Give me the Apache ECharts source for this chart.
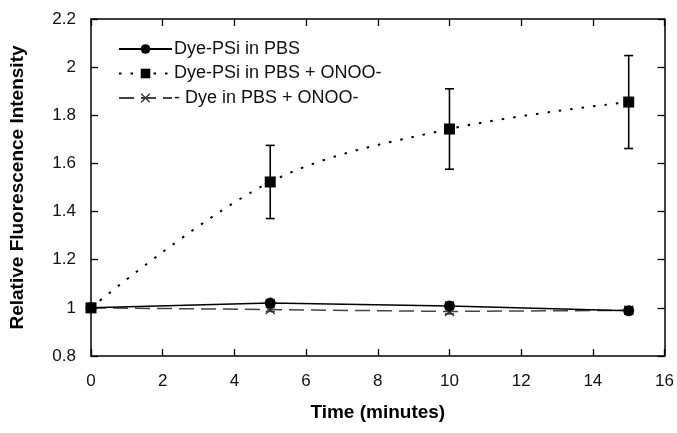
<!DOCTYPE html>
<html>
<head>
<meta charset="utf-8">
<script src="https://cdn.jsdelivr.net/npm/echarts@6/dist/echarts.min.js"></script>
<style>html,body{margin:0;padding:0;background:#fff}#c{width:677px;height:433px}</style>
</head>
<body>
<div id="c"></div>
<script>
var times = [0, 5, 10, 15];
var seriesNames = ['Dye-PSi in PBS', 'Dye-PSi in PBS + ONOO-', '- Dye in PBS + ONOO-'];
var psiPBS = [1.0, 1.02, 1.008, 0.988];
var psiPBSErr = [0, 0.012, 0.015, 0.012];
var psiONOO = [1.0, 1.523, 1.743, 1.855];
var psiONOOErr = [0, 0.152, 0.167, 0.193];
var dyeONOO = [1.0, 0.993, 0.985, 0.99];
var dyeONOOErr = [0, 0.008, 0.01, 0.015];
var xTicks = [0, 2, 4, 6, 8, 10, 12, 14, 16];
var yTicks = [0.8, 1.0, 1.2, 1.4, 1.6, 1.8, 2.0, 2.2];

var FONT = '"Liberation Sans", Arial, sans-serif';
var xShape = 'path://M0,1L1,0L5,4L9,0L10,1L6,5L10,9L9,10L5,6L1,10L0,9L4,5Z';

function pairs(vals) { return times.map(function (t, i) { return [t, vals[i]]; }); }
function errData(vals, errs) {
  return times.map(function (t, i) { return [t, vals[i] - errs[i], vals[i] + errs[i]]; })
    .filter(function (d, i) { return errs[i] > 0; });
}
function errSeries(vals, errs, color) {
  return {
    type: 'custom', silent: true, z: 3,
    data: errData(vals, errs),
    renderItem: function (params, api) {
      var lo = api.coord([api.value(0), api.value(1)]);
      var hi = api.coord([api.value(0), api.value(2)]);
      var w = 4.5;
      var st = { stroke: color, lineWidth: 1.6 };
      return { type: 'group', children: [
        { type: 'line', shape: { x1: lo[0], y1: lo[1], x2: hi[0], y2: hi[1] }, style: st },
        { type: 'line', shape: { x1: lo[0] - w, y1: lo[1], x2: lo[0] + w, y2: lo[1] }, style: st },
        { type: 'line', shape: { x1: hi[0] - w, y1: hi[1], x2: hi[0] + w, y2: hi[1] }, style: st }
      ]};
    }
  };
}

var chart = echarts.init(document.getElementById('c'), null, { renderer: 'canvas' });
var axisCommon = {
  axisLine: { show: true, onZero: false, lineStyle: { color: '#000', width: 1.5 } },
  axisTick: { show: true, inside: true, length: 7, lineStyle: { color: '#000', width: 1.3 } },
  splitLine: { show: false }
};
chart.setOption({
  animation: false,
  backgroundColor: '#fff',
  grid: { left: 91, right: 11, top: 19, bottom: 77 },
  legend: {
    orient: 'vertical', left: 113, top: 35,
    itemWidth: 53, itemHeight: 12, itemGap: 6.5,
    textStyle: { fontFamily: FONT, fontSize: 18, color: '#111', padding: [0, 0, 0, -3] },
    data: seriesNames
  },
  xAxis: [
    Object.assign({}, axisCommon, {
      type: 'value', min: xTicks[0], max: xTicks[xTicks.length - 1], interval: 2, position: 'bottom',
      name: 'Time (minutes)', nameLocation: 'middle', nameGap: 47,
      nameTextStyle: { fontFamily: FONT, fontSize: 19, fontWeight: 'bold', color: '#000' },
      axisLabel: { fontFamily: FONT, fontSize: 17, color: '#111', margin: 17 }
    }),
    Object.assign({}, axisCommon, {
      type: 'value', min: xTicks[0], max: xTicks[xTicks.length - 1], interval: 2, position: 'top',
      axisLabel: { show: false }
    })
  ],
  yAxis: [
    Object.assign({}, axisCommon, {
      type: 'value', min: yTicks[0], max: yTicks[yTicks.length - 1], interval: 0.2, position: 'left',
      name: 'Relative Fluorescence Intensity', nameLocation: 'middle', nameGap: 64,
      nameTextStyle: { fontFamily: FONT, fontSize: 19, fontWeight: 'bold', color: '#000' },
      axisLabel: { fontFamily: FONT, fontSize: 17, color: '#111', margin: 15,
        formatter: function (v) { return String(Math.round(v * 10) / 10); } }
    }),
    Object.assign({}, axisCommon, {
      type: 'value', min: yTicks[0], max: yTicks[yTicks.length - 1], interval: 0.2, position: 'right',
      axisLabel: { show: false }
    })
  ],
  series: [
    errSeries(psiONOO, psiONOOErr, '#000'),
    errSeries(psiPBS, psiPBSErr, '#000'),
    errSeries(dyeONOO, dyeONOOErr, '#333'),
    {
      name: seriesNames[0], type: 'line', data: pairs(psiPBS), z: 5,
      symbol: 'circle', symbolSize: 11,
      itemStyle: { color: '#000' },
      lineStyle: { color: '#000', width: 1.5, type: 'solid' }
    },
    {
      name: seriesNames[1], type: 'line', data: pairs(psiONOO), smooth: 0.35, z: 5,
      symbol: 'rect', symbolSize: 11,
      itemStyle: { color: '#000' },
      lineStyle: { color: '#000', width: 2, type: [2.5, 9] }
    },
    {
      name: seriesNames[2], type: 'line', data: pairs(dyeONOO), z: 4,
      symbol: xShape, symbolSize: 10,
      itemStyle: { color: '#333' },
      lineStyle: { color: '#444', width: 1.5, type: [15, 7] }
    }
  ]
});
</script>
</body>
</html>
